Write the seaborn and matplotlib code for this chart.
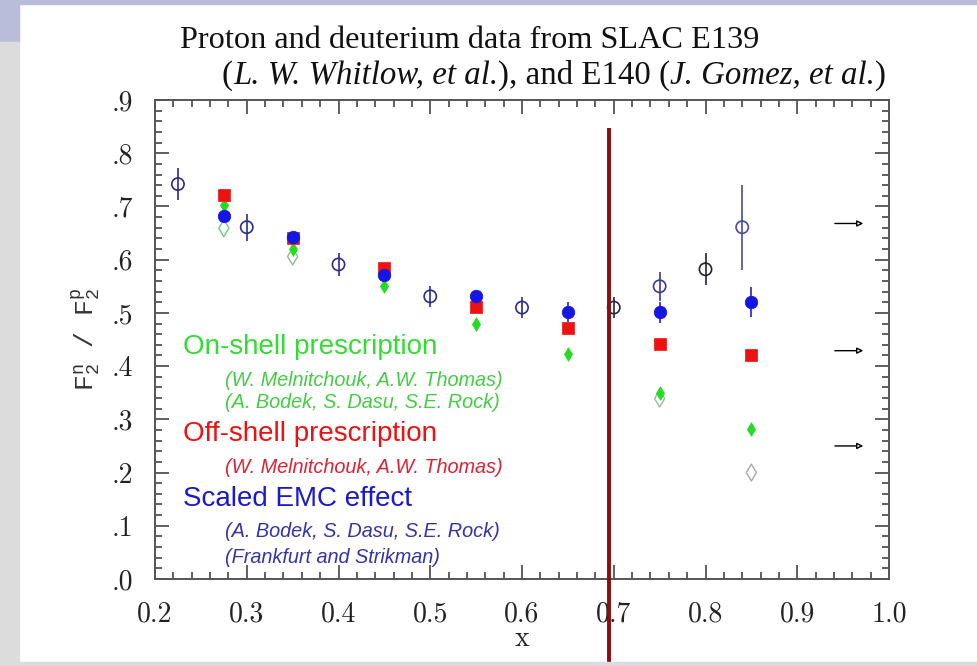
import seaborn as sns
import pandas as pd
import matplotlib.pyplot as plt
from matplotlib.patches import Rectangle
from matplotlib.ticker import MultipleLocator, FixedLocator, FixedFormatter

# SLAC E139 / E140 measured ratio (open circles with error bars)
data_x = [0.225, 0.30, 0.40, 0.50, 0.60, 0.70, 0.75, 0.80, 0.84]
data_y = [0.742, 0.661, 0.591, 0.531, 0.51, 0.51, 0.55, 0.582, 0.661]
data_err = [0.03, 0.025, 0.021, 0.02, 0.019, 0.019, 0.027, 0.03, 0.08]
data_colors = ['#2c2c8e', '#2c2c8e', '#2c2c8e', '#2c2c8e', '#2c2c8e',
               '#26264a', '#3a3a9a', '#222233', '#4a4a9e']

# model extractions
model_x = [0.275, 0.35, 0.45, 0.55, 0.65, 0.75, 0.85]
on_shell = [0.702, 0.62, 0.55, 0.48, 0.422, 0.35, 0.282]
off_shell = [0.721, 0.64, 0.584, 0.512, 0.471, 0.442, 0.42]
scaled_emc = [0.682, 0.642, 0.572, 0.531, 0.501, 0.501, 0.52]
scaled_emc_err = [0, 0, 0, 0, 0.019, 0.02, 0.028]

open_diamond_x = [0.275, 0.35, 0.75, 0.85]
open_diamond_y = [0.659, 0.606, 0.339, 0.20]
open_diamond_colors = ['#6fcf6f', '#8fbf8f', '#a0b8a0', '#a8a8a8']

arrow_levels = [0.668, 0.429, 0.25]
cut_x = 0.695

x_ticks = [0.2, 0.3, 0.4, 0.5, 0.6, 0.7, 0.8, 0.9, 1.0]
x_tick_labels = ['0.2', '0.3', '0.4', '0.5', '0.6', '0.7', '0.8', '0.9', '1.0']
y_ticks = [0.0, 0.1, 0.2, 0.3, 0.4, 0.5, 0.6, 0.7, 0.8, 0.9]
y_tick_labels = ['.0', '.1', '.2', '.3', '.4', '.5', '.6', '.7', '.8', '.9']

legend_lines = [
    ('On-shell prescription', '#33dd33', 'big'),
    ('(W. Melnitchouk, A.W. Thomas)', '#44cc44', 'small'),
    ('(A. Bodek, S. Dasu, S.E. Rock)', '#44cc44', 'small'),
    ('Off-shell prescription', '#ee1111', 'big'),
    ('(W. Melnitchouk, A.W. Thomas)', '#dd2233', 'small'),
    ('Scaled EMC effect', '#1a1acc', 'big'),
    ('(A. Bodek, S. Dasu, S.E. Rock)', '#3333aa', 'small'),
    ('(Frankfurt and Strikman)', '#3333aa', 'small'),
]
legend_y = [0.435, 0.373, 0.331, 0.273, 0.209, 0.151, 0.09, 0.04]

title_1 = 'Proton and deuterium data from SLAC E139'
title_2 = [('(', 'normal'), ('L. W. Whitlow, et al.', 'italic'), ('), and E140 (', 'normal'),
           ('J. Gomez, et al.', 'italic'), (')', 'normal')]

sns.set_theme(style='ticks')
plt.rcParams['mathtext.fontset'] = 'custom'
plt.rcParams['mathtext.rm'] = 'Liberation Serif'
plt.rcParams['mathtext.it'] = 'Liberation Serif:italic'
plt.rcParams['mathtext.tt'] = 'Liberation Mono'

fig = plt.figure(figsize=(9.78, 6.66), dpi=100)
fig.patch.set_facecolor('white')

# slide decorations
fig.patches.append(Rectangle((0, 1 - 4 / 666), 1, 4 / 666, transform=fig.transFigure,
                             color='#b9bdda', zorder=0))
fig.patches.append(Rectangle((0, 1 - 42 / 666), 19 / 978, 42 / 666, transform=fig.transFigure,
                             color='#b9bdda', zorder=0))
fig.patches.append(Rectangle((0, 0), 19 / 978, 1 - 42 / 666, transform=fig.transFigure,
                             color='#dcdcdc', zorder=0))
fig.patches.append(Rectangle((0, 0), 1, 4 / 666, transform=fig.transFigure,
                             color='#dcdcdc', zorder=0))

ax = fig.add_axes([155 / 978, 87 / 666, 734 / 978, 479 / 666])
ax.set_facecolor('none')

df_data = pd.DataFrame({'x': data_x, 'y': data_y})
df_model = pd.DataFrame({'x': model_x, 'on': on_shell, 'off': off_shell, 'emc': scaled_emc})
df_open = pd.DataFrame({'x': open_diamond_x, 'y': open_diamond_y})

ax.errorbar(data_x, data_y, yerr=data_err, fmt='none', ecolor=data_colors, elinewidth=1.2,
            capsize=0, zorder=3)
sns.scatterplot(data=df_data, x='x', y='y', marker='o', s=78, facecolor='none',
                edgecolor=data_colors, linewidth=1.2, zorder=4, ax=ax)

sns.scatterplot(data=df_open, x='x', y='y', marker='d', s=74, facecolor='none',
                edgecolor=open_diamond_colors, linewidth=1.0, zorder=4, ax=ax)
sns.scatterplot(data=df_model, x='x', y='on', marker='d', s=48, color='#22dd22',
                edgecolor='#22dd22', linewidth=0.5, zorder=5, ax=ax)
sns.scatterplot(data=df_model, x='x', y='off', marker='s', s=64, color='#ee1111',
                edgecolor='#ee1111', linewidth=0.5, zorder=6, ax=ax)
ax.errorbar(model_x, scaled_emc, yerr=scaled_emc_err, fmt='none', ecolor='#2222cc',
            elinewidth=1.2, capsize=0, zorder=6)
sns.scatterplot(data=df_model, x='x', y='emc', marker='o', s=82, color='#1515e6',
                edgecolor='#1515e6', linewidth=0.5, zorder=7, ax=ax)

# limit arrows at the right
for lvl in arrow_levels:
    ax.annotate('', xy=(0.975, lvl), xytext=(0.938, lvl),
                arrowprops=dict(arrowstyle='-|>', color='black', lw=1.0,
                                mutation_scale=9, fc='white'))

# vertical cut line
ax.plot([cut_x, cut_x], [0.847, -0.17], color='#8b0d0d', lw=2.8, clip_on=False,
        zorder=10, solid_capstyle='butt')

for (txt, col, kind), yy in zip(legend_lines, legend_y):
    if kind == 'big':
        ax.text(0.2305, yy, txt, color=col, fontsize=20, family='Liberation Sans',
                va='center', ha='left')
    else:
        ax.text(0.276, yy, txt, color=col, fontsize=14.3, family='Liberation Sans',
                style='italic', va='center', ha='left')

ax.set_xlim(0.2, 1.0)
ax.set_ylim(0.0, 0.9)
ax.xaxis.set_major_locator(FixedLocator(x_ticks))
ax.xaxis.set_major_formatter(FixedFormatter(x_tick_labels))
ax.yaxis.set_major_locator(FixedLocator(y_ticks))
ax.yaxis.set_major_formatter(FixedFormatter(y_tick_labels))
ax.xaxis.set_minor_locator(MultipleLocator(0.02))
ax.yaxis.set_minor_locator(MultipleLocator(0.02))
ax.tick_params(which='both', direction='in', top=True, right=True, color='#444444', width=1.2)
ax.tick_params(which='major', length=10)
ax.tick_params(which='minor', length=5)
ax.tick_params(axis='x', which='major', pad=16, labelsize=20, labelcolor='#222222',
               labelfontfamily='cmr10')
ax.tick_params(axis='y', which='major', pad=16, labelsize=20, labelcolor='#222222',
               labelfontfamily='cmr10')
for sp in ax.spines.values():
    sp.set_color('#555555')
    sp.set_linewidth(1.4)

ax.set_xlabel('x', fontsize=20, family='cmr10', color='#222222')
ax.xaxis.set_label_coords(0.5, -0.125)
ax.xaxis.label.set_va('center')
ax.set_ylabel(r'$\mathtt{F}_{\mathtt{2}}^{\mathtt{n}}$ / $\mathtt{F}_{\mathtt{2}}^{\mathtt{p}}$',
              fontsize=19, family='Liberation Mono', color='#333333')
ax.yaxis.set_label_coords(-0.095, 0.5)
ax.yaxis.label.set_va('center')

fig.text(180 / 978, 1 - 48 / 666, title_1,
         fontsize=23.2, family='Liberation Serif', color='#111111', ha='left', va='baseline')

# second title line: upright / italic pieces, each placed right after the previous one
base_y = 1 - 84 / 666
prev = fig.text(222 / 978, base_y, title_2[0][0], fontsize=23.7, family='Liberation Serif',
                style=title_2[0][1], color='#111111', ha='left', va='baseline')
for txt, sty in title_2[1:]:
    prev = ax.annotate(txt, xy=(1, base_y), xycoords=(prev, 'figure fraction'),
                       fontsize=23.7, family='Liberation Serif', style=sty, color='#111111',
                       ha='left', va='baseline', annotation_clip=False)

fig.savefig('out.png', dpi=100)
